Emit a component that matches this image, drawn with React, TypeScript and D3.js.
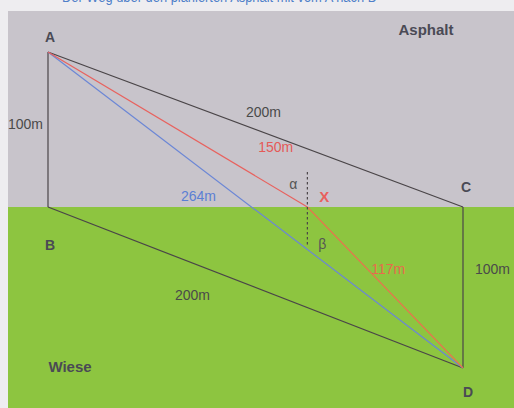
import React from "react";
import * as d3 from "d3";

// points in metres (x along the road, y downwards)
const pointNames = ["A", "B", "C", "D", "X"];
const pointX = [0, 0, 200, 200, 125];
const pointY = [0, 100, 100, 200, 100];

// segments: [from, to, colour]
const segFrom = ["A", "A", "B", "C", "A", "A", "X"];
const segTo = ["B", "C", "D", "D", "D", "X", "D"];
const segColor = ["#4a4548", "#4a4548", "#4a4548", "#4a4548", "#6b86d6", "#e8625e", "#e8744e"];

// length labels
const labelText = ["100m", "200m", "200m", "100m", "264m", "150m", "117m"];
const labelColor = ["#4a4a4a", "#4a4a4a", "#4a4a4a", "#4a4a4a", "#5b7fd4", "#e45a57", "#e86a4c"];

const W = 514;
const H = 408;

const App = () => {
  const x = d3.scaleLinear().domain([0, 200]).range([48, 463]);
  const y = d3.scaleLinear().domain([0, 100, 200]).range([52, 207, 368]);
  const pt = (n: string) => {
    const i = pointNames.indexOf(n);
    return [x(pointX[i]), y(pointY[i])];
  };
  const line = d3.line();

  const A = pt("A"), B = pt("B"), C = pt("C"), D = pt("D"), X = pt("X");
  // label positions relative to segment geometry
  const labelPos = [
    [8, (A[1] + B[1]) / 2 - 1, "start"],
    [(A[0] + C[0]) / 2 + 8, (A[1] + C[1]) / 2 - 13, "middle"],
    [(B[0] + D[0]) / 2 - 63, (B[1] + D[1]) / 2 + 12, "middle"],
    [D[0] + 12, (C[1] + D[1]) / 2 - 14, "start"],
    [(A[0] + D[0]) / 2 - 57, (A[1] + D[1]) / 2 - 9, "middle"],
    [(A[0] + X[0]) / 2 + 98, (A[1] + X[1]) / 2 + 22, "middle"],
    [(X[0] + D[0]) / 2 + 3, (X[1] + D[1]) / 2 - 14, "middle"],
  ];

  const font = "'Liberation Sans', Arial, sans-serif";

  return (
    <svg width={W} height={H} style={{ position: "absolute", left: 0, top: 0 }} fontFamily={font}>
      <rect x={0} y={0} width={W} height={H} fill="#eeedf0" />
      <text x={62} y={2} fontSize={14} fill="#4f7fc9" textLength={315} lengthAdjust="spacingAndGlyphs">
        Der Weg über den planierten Asphalt mit vom A nach D
      </text>
      <rect x={8} y={11} width={W - 8} height={y(100) - 11} fill="#c8c4cb" />
      <rect x={8} y={y(100)} width={W - 8} height={H - y(100)} fill="#8dc540" />

      {segFrom.map((f, i) => (
        <path
          key={i}
          d={line([pt(f) as [number, number], pt(segTo[i]) as [number, number]]) || ""}
          stroke={segColor[i]}
          strokeWidth={1.2}
          fill="none"
        />
      ))}

      <line x1={X[0]} y1={y(100) - 35} x2={X[0]} y2={y(100) + 38} stroke="#4a4548" strokeWidth={1.2} strokeDasharray="2.5,2.5" />

      {labelText.map((t, i) => (
        <text
          key={i}
          x={labelPos[i][0] as number}
          y={labelPos[i][1] as number}
          textAnchor={labelPos[i][2] as string}
          fontSize={14}
          fill={labelColor[i]}
        >
          {t}
        </text>
      ))}

      <g fontWeight="bold" fill="#4a4a55">
        <text x={A[0] + 2} y={A[1] - 10} textAnchor="middle" fontSize={14}>A</text>
        <text x={B[0] + 2} y={B[1] + 43} textAnchor="middle" fontSize={14}>B</text>
        <text x={C[0] + 3} y={C[1] - 15} textAnchor="middle" fontSize={14}>C</text>
        <text x={D[0] + 5} y={D[1] + 29} textAnchor="middle" fontSize={14}>D</text>
        <text x={426} y={35} textAnchor="middle" fontSize={15}>Asphalt</text>
        <text x={70} y={372} textAnchor="middle" fontSize={15}>Wiese</text>
      </g>
      <text x={X[0] - 14} y={y(100) - 18} textAnchor="middle" fontSize={14} fill="#555">α</text>
      <text x={X[0] + 15} y={y(100) + 42} textAnchor="middle" fontSize={14} fill="#555">β</text>
      <text x={X[0] + 17} y={y(100) - 5} textAnchor="middle" fontSize={15} fontWeight="bold" fill="#e8605c">X</text>
    </svg>
  );
};

export default App;
